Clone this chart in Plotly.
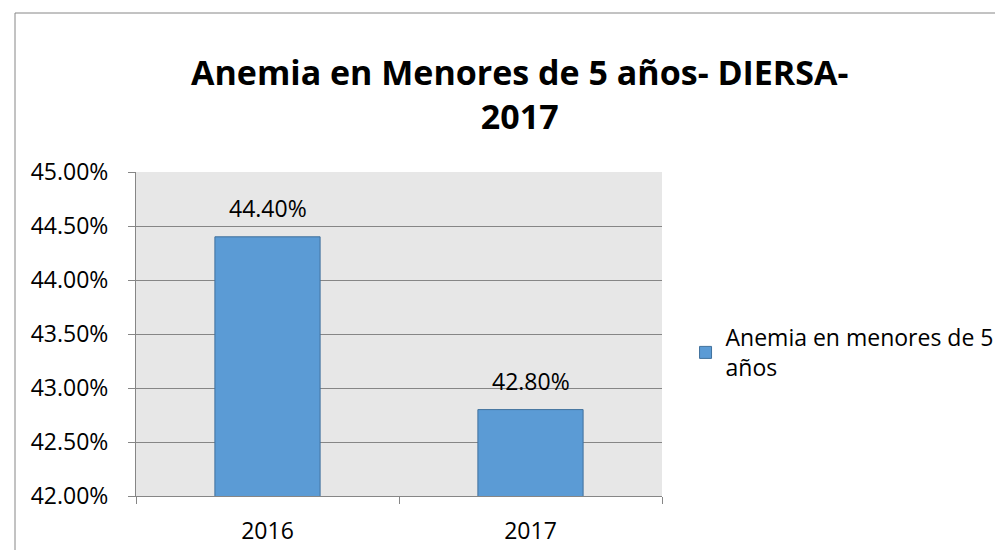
import plotly.graph_objects as go

categories = ["2016", "2017"]
values = [44.40, 42.80]
series_name = "Anemia en menores de 5<br>años"
title_lines = ["Anemia en Menores de 5 años- DIERSA-", "2017"]
y_ticks = [42.0, 42.5, 43.0, 43.5, 44.0, 44.5, 45.0]

W, H = 1003, 550
L, R, T, B = 128, 349, 164, 62
PW, PH = W - L - R, H - T - B

FONT = "Open Sans"
FS = 23

def px_x(px):
    return (px - L) / PW

def px_y(py):
    return (H - B - py) / PH

fig = go.Figure()
fig.add_trace(go.Bar(
    x=categories, y=values, name=series_name,
    marker=dict(color="#5b9bd5", line=dict(color="#41719c", width=1)),
    width=0.4, showlegend=True,
))

for i, v in enumerate(values):
    fig.add_annotation(x=i, y=v, text=f"{v:.2f}%", showarrow=False,
                       yanchor="bottom", yshift=11,
                       font=dict(family=FONT, size=FS, color="#000000"))

# two-line title
fig.add_annotation(xref="paper", yref="paper", x=px_x(511), y=px_y(86),
                   xanchor="center", yanchor="middle", showarrow=False,
                   text="<b>" + "<br>".join(title_lines) + "</b>",
                   font=dict(family=FONT, size=34, color="#000000"))

fig.update_layout(
    width=W, height=H,
    margin=dict(l=L, r=R, t=T, b=B, pad=0),
    paper_bgcolor="white", plot_bgcolor="#e7e7e7",
    legend=dict(x=px_x(697) - 0.037, xanchor="left",
                y=px_y(308), yanchor="top",
                font=dict(family=FONT, size=FS, color="#000000"),
                bgcolor="rgba(0,0,0,0)", itemwidth=30, tracegroupgap=0),
    xaxis=dict(type="category", range=[-0.5, 1.5], showgrid=False, showline=True,
               linecolor="#868686", linewidth=1, ticks="outside",
               tickson="boundaries", ticklen=7, tickcolor="#868686",
               ticklabelstandoff=14,
               tickfont=dict(family=FONT, size=FS, color="#000000")),
    yaxis=dict(range=[42, 45], tickvals=y_ticks,
               ticktext=[f"{t:.2f}%" for t in y_ticks],
               showgrid=True, gridcolor="#868686", gridwidth=1,
               showline=True, linecolor="#868686", linewidth=1,
               ticks="outside", ticklen=7, tickcolor="#868686",
               ticklabelstandoff=15, zeroline=False,
               tickfont=dict(family=FONT, size=FS, color="#000000")),
)

# chart outer border
fig.add_shape(type="rect", xref="paper", yref="paper",
              x0=px_x(7), x1=px_x(W + 5),
              y0=px_y(H + 5), y1=px_y(5),
              line=dict(color="#868686", width=1), fillcolor="rgba(0,0,0,0)",
              layer="below")

fig.write_html("out.html")
